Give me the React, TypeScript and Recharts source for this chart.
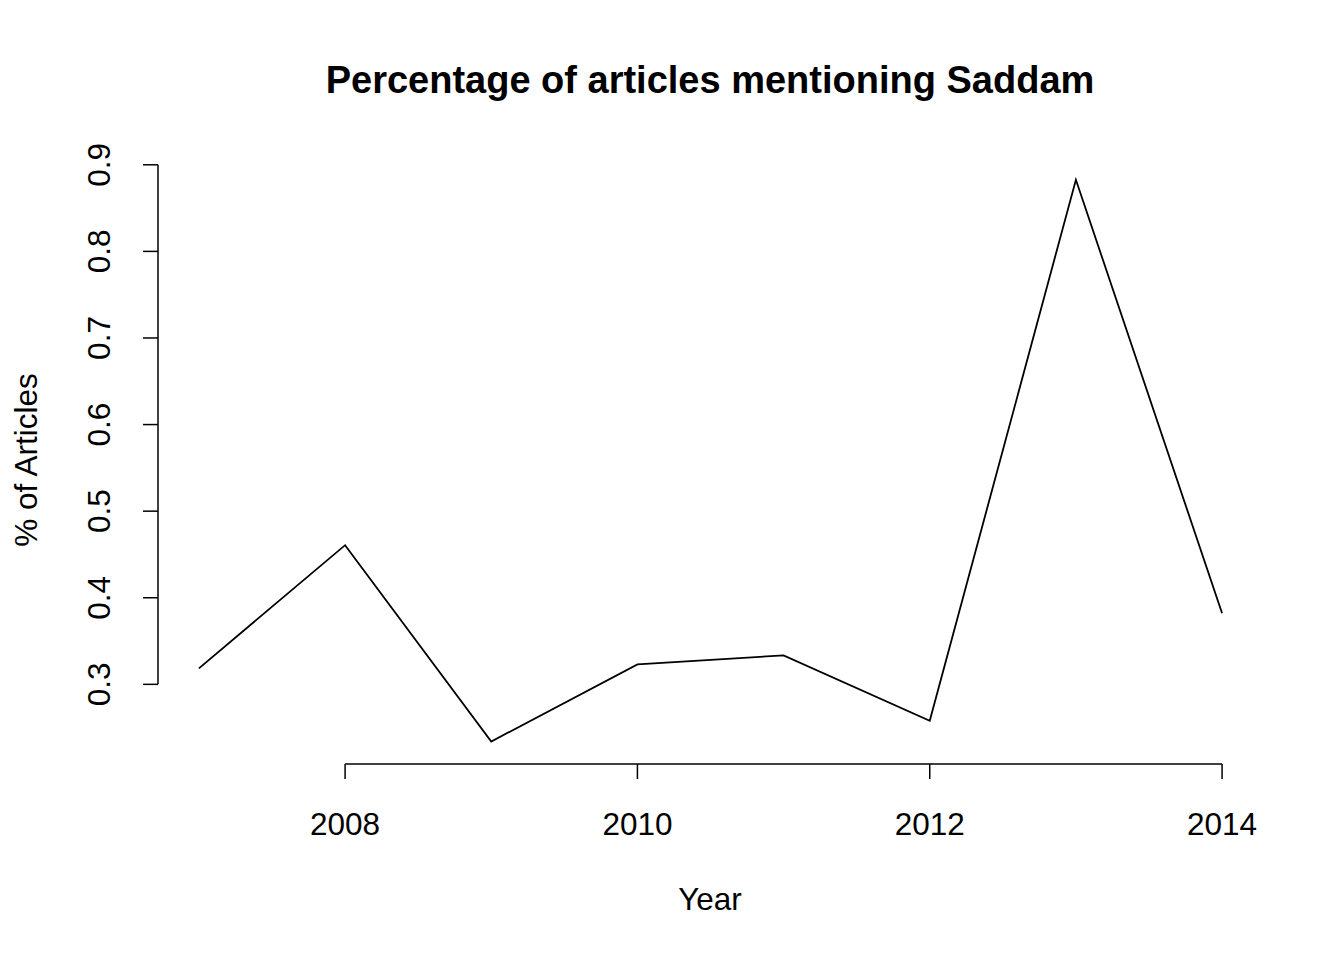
import { LineChart, Line, XAxis, YAxis, ReferenceLine } from 'recharts';

const years = [2007, 2008, 2009, 2010, 2011, 2012, 2013, 2014];
const pct = [0.3185, 0.4607, 0.234, 0.323, 0.3335, 0.258, 0.8827, 0.382];
const xTicks = [2008, 2010, 2012, 2014];
const yTicks = [0.3, 0.4, 0.5, 0.6, 0.7, 0.8, 0.9];

const data = years.map((y, i) => ({ year: y, pct: pct[i] }));
const font = '"Liberation Sans", Arial, sans-serif';

const XTick = (p: any) => (
  <text x={p.x} y={p.y} dy={56} textAnchor="middle" fontSize={31.5} fontFamily={font} fill="#000">
    {p.payload.value}
  </text>
);

const YTick = (p: any) => (
  <text
    x={p.x - 33}
    y={p.y}
    textAnchor="middle"
    transform={`rotate(-90 ${p.x - 33} ${p.y})`}
    fontSize={31.5}
    fontFamily={font}
    fill="#000"
  >
    {p.payload.value.toFixed(1)}
  </text>
);

export default function App() {
  return (
    <div style={{ position: 'absolute', left: 0, top: 0, width: 1344, height: 960, background: '#fff' }}>
      <LineChart width={1344} height={960} data={data} margin={{ top: 157, left: 98, right: 81, bottom: 136 }}>
        <XAxis
          dataKey="year"
          type="number"
          domain={[2006.72, 2014.28]}
          ticks={xTicks}
          axisLine={false}
          tickLine={{ stroke: '#000', strokeWidth: 1.5 }}
          tickSize={15}
          tickMargin={0}
          height={60}
          tick={<XTick />}
        />
        <YAxis
          type="number"
          domain={[0.208, 0.909]}
          ticks={yTicks}
          axisLine={false}
          tickLine={{ stroke: '#000', strokeWidth: 1.5 }}
          tickSize={15}
          tickMargin={0}
          width={60}
          tick={<YTick />}
        />
        <ReferenceLine
          segment={[{ x: 2008, y: 0.208 }, { x: 2014, y: 0.208 }]}
          stroke="#000"
          strokeWidth={1.5}
          ifOverflow="visible"
        />
        <ReferenceLine
          segment={[{ x: 2006.72, y: 0.3 }, { x: 2006.72, y: 0.9 }]}
          stroke="#000"
          strokeWidth={1.5}
          ifOverflow="visible"
        />
        <Line dataKey="pct" stroke="#000" strokeWidth={1.8} dot={false} isAnimationActive={false} />
      </LineChart>
      <svg width={1344} height={960} style={{ position: 'absolute', left: 0, top: 0, pointerEvents: 'none' }}>
        <text x={710} y={93} textAnchor="middle" fontSize={38} fontWeight="bold" fontFamily={font}>
          Percentage of articles mentioning Saddam
        </text>
        <text x={710} y={910} textAnchor="middle" fontSize={31.5} fontFamily={font}>
          Year
        </text>
        <text x={37} y={460} textAnchor="middle" fontSize={31.5} fontFamily={font} transform="rotate(-90 37 460)">
          % of Articles
        </text>
      </svg>
    </div>
  );
}
